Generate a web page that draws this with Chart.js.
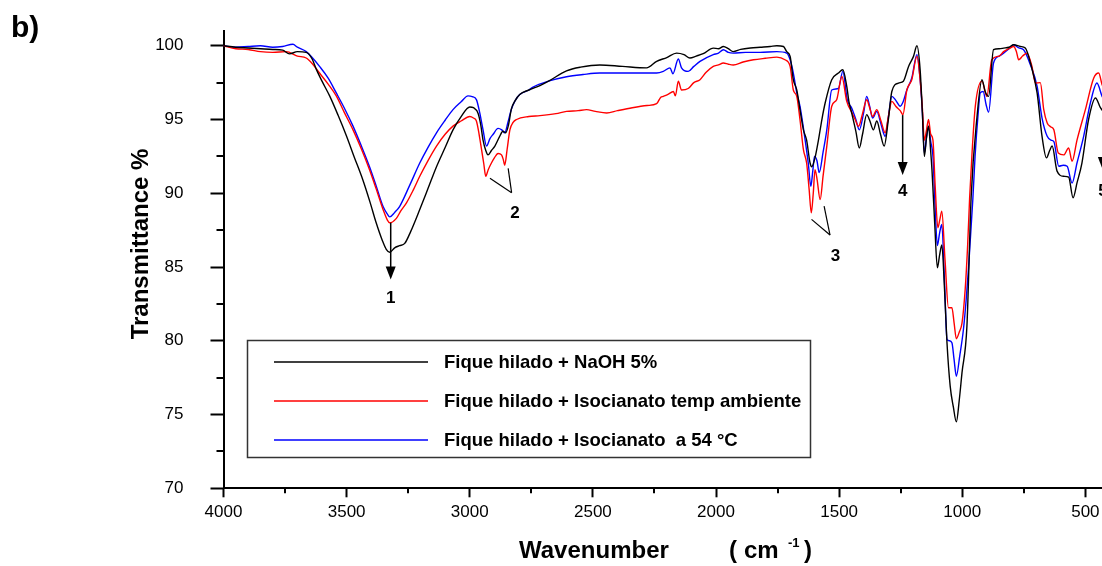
<!DOCTYPE html>
<html>
<head>
<meta charset="utf-8">
<title>FTIR fique hilado</title>
<script src="https://cdn.jsdelivr.net/npm/chart.js@4.4.0/dist/chart.umd.min.js"></script>
<style>
html, body { margin: 0; padding: 0; overflow: hidden; background: #fff; }
#wrap { width: 1120px; height: 566px; }
</style>
</head>
<body>
<div id="wrap"><canvas id="chart-1" width="1120" height="566"></canvas></div>
<script>

// Fique hilado + NaOH 5%
var naohWn = [4000,3950,3900,3850,3800,3760,3732,3700,3664,3640,3623,3600,3569,3535,3501,3470,3434,3405,3380,3355,3339,3325,3305,3285,3264,3240,3203,3170,3135,3100,3068,3035,3000,2985,2966,2955,2946,2935,2926,2912,2898,2880,2865,2854,2843,2831,2815,2797,2760,2715,2680,2607,2550,2472,2380,2282,2241,2200,2160,2130,2106,2080,2052,2011,1990,1970,1950,1930,1900,1860,1821,1780,1753,1726,1713,1699,1686,1672,1659,1645,1632,1618,1611,1598,1584,1570,1557,1530,1503,1485,1469,1460,1449,1432,1418,1405,1388,1375,1361,1347,1332,1317,1300,1286,1259,1239,1218,1198,1184,1171,1162,1154,1145,1137,1128,1123,1112,1101,1092,1083,1072,1062,1049,1036,1024,1012,1001,981,964,940,920,907,893,873,850,832,810,791,764,744,723,696,676,658,645,635,615,588,568,550,534,514,487,459,439,420];
var naohT = [100.0,99.9,99.85,99.8,99.75,99.7,99.45,99.6,99.55,99.1,98.4,97.6,96.6,95.3,93.9,92.5,90.9,89.4,88.0,86.8,86.2,86.0,86.3,86.45,86.6,87.4,88.9,90.3,91.8,93.1,94.3,95.2,95.85,95.8,95.4,94.6,93.6,92.9,92.6,92.9,93.2,93.8,94.2,94.1,94.6,95.7,96.3,96.7,97.0,97.3,97.6,98.3,98.55,98.7,98.6,98.5,98.94,99.2,99.5,99.4,99.17,99.3,99.46,99.84,99.8,99.95,99.8,99.6,99.75,99.85,99.9,99.95,100.0,99.95,99.6,99.28,97.7,97.0,95.67,94.3,93.6,92.05,91.8,92.4,93.6,95.0,96.1,97.7,98.15,98.37,97.25,96.2,95.44,94.2,93.07,94.0,95.33,94.9,94.3,94.9,94.0,93.2,95.0,96.9,97.47,97.6,98.6,99.28,100.0,98.37,95.5,92.5,93.8,94.54,92.8,91.6,88.0,84.95,85.8,86.5,83.5,79.87,76.93,75.5,74.5,76.0,77.84,81.0,89.7,95.2,97.7,96.9,96.57,99.73,99.8,99.84,99.9,100.07,99.95,99.84,98.83,96.8,93.86,92.4,92.9,93.2,91.5,91.15,91.1,89.7,90.7,92.05,95.0,96.46,95.8,95.4];

// Fique hilado + Isocianato temp ambiente
var ambWn = [4000,3950,3900,3850,3800,3745,3700,3664,3640,3610,3575,3542,3510,3474,3440,3407,3380,3352,3335,3325,3298,3280,3257,3230,3203,3170,3135,3100,3068,3035,3000,2985,2973,2962,2952,2943,2935,2925,2912,2900,2885,2871,2864,2858,2848,2837,2824,2810,2760,2715,2650,2607,2560,2526,2490,2444,2400,2340,2280,2241,2225,2214,2195,2173,2165,2153,2140,2113,2090,2065,2040,2011,1990,1970,1950,1930,1890,1848,1800,1753,1720,1699,1686,1672,1659,1645,1632,1622,1613,1605,1598,1590,1577,1565,1550,1530,1510,1489,1469,1449,1435,1421,1405,1388,1376,1364,1347,1330,1313,1300,1286,1270,1252,1241,1225,1205,1184,1171,1162,1154,1145,1137,1128,1119,1110,1099,1090,1083,1070,1056,1042,1033,1024,1012,1001,988,978,970,960,947,920,900,880,850,832,810,791,780,771,755,737,717,703,683,669,655,640,628,610,588,568,554,534,500,466,446,432,420];
var ambT = [100.0,99.8,99.75,99.6,99.55,99.6,99.3,99.17,98.8,98.15,97.4,96.6,95.5,94.3,93.0,91.6,90.3,88.9,88.2,88.0,88.3,88.8,89.35,90.2,91.15,92.2,93.2,94.0,94.55,94.9,95.2,95.1,94.9,94.0,92.96,92.0,91.15,91.6,92.05,92.4,92.7,92.6,92.3,91.9,93.0,94.3,94.8,95.0,95.2,95.26,95.4,95.55,95.6,95.67,95.55,95.44,95.6,95.8,95.95,96.07,96.5,96.57,96.7,96.9,96.6,97.6,97.0,97.1,97.5,97.7,98.2,98.6,98.7,98.83,98.75,98.7,98.9,99.05,99.15,99.23,99.05,98.6,97.0,96.57,95.0,92.96,92.05,90.3,88.67,90.0,91.6,91.0,89.57,91.2,93.2,95.9,96.34,97.92,96.23,95.5,95.0,94.54,95.4,96.34,95.8,95.2,95.67,94.9,94.1,95.2,96.23,95.9,95.6,95.33,97.0,97.7,99.28,97.7,95.8,93.6,94.3,95.0,94.0,93.6,90.5,87.66,88.3,88.78,85.5,82.24,82.24,81.2,80.14,80.6,81.2,83.5,86.5,89.7,92.8,95.9,97.6,96.57,99.05,99.3,99.6,99.8,99.95,99.6,99.05,99.3,99.5,98.6,97.47,97.5,95.67,94.77,94.5,94.3,92.73,92.6,93.07,92.17,93.6,95.67,97.81,98.15,97.36,97.0];

// Fique hilado + Isocianato a 54 °C
var hotWn = [4000,3950,3900,3850,3800,3760,3718,3700,3664,3640,3610,3575,3542,3510,3474,3440,3407,3380,3352,3335,3325,3305,3285,3245,3203,3170,3135,3100,3068,3035,3007,2990,2973,2960,2946,2932,2918,2905,2885,2870,2858,2845,2831,2815,2797,2760,2743,2680,2607,2540,2472,2380,2300,2241,2214,2187,2175,2153,2140,2113,2090,2065,2011,1990,1970,1950,1930,1880,1821,1753,1713,1699,1686,1672,1659,1638,1625,1615,1607,1600,1590,1581,1565,1550,1530,1503,1485,1467,1449,1432,1418,1400,1388,1376,1364,1347,1330,1313,1300,1286,1270,1252,1240,1225,1205,1184,1171,1162,1154,1145,1137,1128,1119,1110,1101,1092,1083,1072,1062,1052,1042,1033,1024,1010,995,984,974,957,948,935,927,915,903,893,873,850,832,810,791,770,751,723,696,676,655,640,628,608,590,574,554,534,507,480,453,432,420];
var hotT = [100.0,99.9,99.95,100.0,99.9,99.95,100.1,99.9,99.6,99.2,98.6,97.8,96.8,95.8,94.55,93.2,91.8,90.5,89.1,88.6,88.4,88.7,89.1,90.5,92.05,93.1,94.1,94.95,95.67,96.2,96.6,96.55,96.35,95.5,94.3,93.2,93.7,94.0,94.4,94.3,94.1,94.8,95.7,96.3,96.7,97.0,97.2,97.6,97.9,98.05,98.15,98.15,98.15,98.15,98.26,98.5,98.1,99.1,98.5,98.26,98.6,98.94,99.4,99.5,99.73,99.55,99.5,99.55,99.55,99.6,99.5,99.05,98.15,96.8,95.9,93.6,92.0,90.47,91.5,92.5,92.2,91.4,92.8,94.3,97.0,97.1,98.26,96.34,95.78,95.0,94.3,95.5,96.57,95.9,95.1,95.55,94.7,93.86,95.2,96.57,96.3,95.9,96.2,97.0,97.81,99.4,97.7,95.5,92.73,93.8,94.54,93.5,92.5,89.0,86.46,87.3,87.88,84.0,80.1,80.0,79.87,78.7,77.6,79.0,80.8,82.8,85.06,89.6,92.5,95.5,96.8,96.9,96.0,95.5,98.83,99.3,99.5,99.8,100.07,99.85,99.73,98.7,97.25,95.1,93.86,93.6,93.5,91.83,91.9,91.83,90.7,92.05,93.86,96.1,97.47,96.57,96.3];

var seriesNames = ['Fique hilado + NaOH 5%', 'Fique hilado + Isocianato temp ambiente', 'Fique hilado + Isocianato  a 54 \u00B0C'];
var seriesColors = ['#000000', '#ff0000', '#0000ff'];

var xTicks = [4000, 3500, 3000, 2500, 2000, 1500, 1000, 500];
var xMinor = [3750, 3250, 2750, 2250, 1750, 1250, 750];
var yTicks = [70, 75, 80, 85, 90, 95, 100];
var yMinor = [72.5, 77.5, 82.5, 87.5, 92.5, 97.5];

// band markers, in wavenumber / transmittance
var arrows = [
	{ label: '1', wn: 3321, from: 88.0, to: 84.16, textT: 82.87 },
	{ label: '4', wn: 1242, from: 95.3, to: 91.24, textT: 90.1 },
	{ label: '5', wn: 429, from: 94.5, to: 91.57, textT: 90.1 }
];
var brackets = [
	{ label: '2', apex: [2830, 90.04], ends: [[2918, 91.01], [2844, 91.69]], text: [2816, 88.64] },
	{ label: '3', apex: [1537, 87.17], ends: [[1612, 88.23], [1561, 89.13]], text: [1515, 85.7] }
];

function pairs(wn, t) {
	var out = [];
	for (var i = 0; i < wn.length; i++) {
		out.push({ x: wn[i], y: t[i] });
	}
	return out;
}

var FONT = '"Liberation Sans", Arial, sans-serif';

var extras = {
	id: 'extras',
	afterDraw: function(chart) {
		var ctx = chart.ctx;
		var xs = chart.scales.x, ys = chart.scales.y;
		var area = chart.chartArea;
		ctx.save();

		// minor ticks
		ctx.strokeStyle = '#000';
		ctx.lineWidth = 2;
		xMinor.forEach(function(v) {
			var px = Math.round(xs.getPixelForValue(v));
			ctx.beginPath();
			ctx.moveTo(px, area.bottom);
			ctx.lineTo(px, area.bottom + 5);
			ctx.stroke();
		});
		yMinor.forEach(function(v) {
			var py = Math.round(ys.getPixelForValue(v));
			ctx.beginPath();
			ctx.moveTo(area.left, py);
			ctx.lineTo(area.left - 7, py);
			ctx.stroke();
		});

		// arrows
		ctx.fillStyle = '#000';
		ctx.lineWidth = 1.5;
		ctx.font = 'bold 17px ' + FONT;
		ctx.textAlign = 'center';
		ctx.textBaseline = 'middle';
		arrows.forEach(function(a) {
			var px = xs.getPixelForValue(a.wn);
			var y0 = ys.getPixelForValue(a.from);
			var y1 = ys.getPixelForValue(a.to);
			ctx.beginPath();
			ctx.moveTo(px, y0);
			ctx.lineTo(px, y1 - 10);
			ctx.stroke();
			ctx.beginPath();
			ctx.moveTo(px - 5, y1 - 13);
			ctx.lineTo(px + 5, y1 - 13);
			ctx.lineTo(px, y1);
			ctx.closePath();
			ctx.fill();
			ctx.fillText(a.label, px, ys.getPixelForValue(a.textT));
		});

		// brackets
		ctx.lineWidth = 1.2;
		brackets.forEach(function(b) {
			var ax = xs.getPixelForValue(b.apex[0]), ay = ys.getPixelForValue(b.apex[1]);
			b.ends.forEach(function(e) {
				ctx.beginPath();
				ctx.moveTo(xs.getPixelForValue(e[0]), ys.getPixelForValue(e[1]));
				ctx.lineTo(ax, ay);
				ctx.stroke();
			});
			ctx.fillText(b.label, xs.getPixelForValue(b.text[0]), ys.getPixelForValue(b.text[1]));
		});

		// legend box
		ctx.fillStyle = '#fff';
		ctx.fillRect(247.5, 340.5, 563, 117);
		ctx.strokeStyle = '#333';
		ctx.lineWidth = 1.5;
		ctx.strokeRect(247.5, 340.5, 563, 117);
		var rows = [362, 401, 440];
		ctx.font = 'bold 18.5px ' + FONT;
		ctx.textAlign = 'left';
		ctx.textBaseline = 'alphabetic';
		for (var i = 0; i < seriesNames.length; i++) {
			ctx.strokeStyle = seriesColors[i];
			ctx.lineWidth = 1.5;
			ctx.beginPath();
			ctx.moveTo(274, rows[i]);
			ctx.lineTo(428, rows[i]);
			ctx.stroke();
			ctx.fillStyle = '#000';
			ctx.fillText(seriesNames[i], 444, rows[i] + 6);
		}

		// panel letter and axis titles
		ctx.fillStyle = '#000';
		ctx.font = 'bold 30px ' + FONT;
		ctx.fillText('b)', 11, 37);

		ctx.font = 'bold 24px ' + FONT;
		ctx.fillText('Wavenumber', 519, 558);
		ctx.fillText('(', 729, 558);
		ctx.fillText('cm', 744, 558);
		ctx.fillText(')', 804, 558);
		ctx.font = 'bold 13px ' + FONT;
		ctx.fillText('-1', 788, 547);

		ctx.font = 'bold 24px ' + FONT;
		ctx.translate(148, 244);
		ctx.rotate(-Math.PI / 2);
		ctx.textAlign = 'center';
		ctx.fillText('Transmittance %', 0, 0);

		ctx.restore();
	}
};

var data1 = {
	datasets: [
		{ label: seriesNames[0], data: pairs(naohWn, naohT), borderColor: seriesColors[0] },
		{ label: seriesNames[1], data: pairs(ambWn, ambT), borderColor: seriesColors[1] },
		{ label: seriesNames[2], data: pairs(hotWn, hotT), borderColor: seriesColors[2] }
	]
};
data1.datasets.forEach(function(d) {
	d.borderWidth = 1.4;
	d.pointRadius = 0;
	d.fill = false;
	d.cubicInterpolationMode = 'monotone';
});

var options1 = {
	responsive: false,
	animation: false,
	events: [],
	layout: { padding: { left: 0, right: 10, top: 31, bottom: 0 } },
	plugins: {
		legend: { display: false },
		tooltip: { enabled: false }
	},
	scales: {
		x: {
			type: 'linear',
			reverse: true,
			min: 400,
			max: 4000,
			afterBuildTicks: function(axis) {
				axis.ticks = xTicks.map(function(v) { return { value: v }; });
			},
			afterFit: function(axis) {
				axis.height = 77.7;
				axis.paddingLeft = 0;
				axis.paddingRight = 0;
			},
			border: { display: true, color: '#000', width: 2 },
			grid: { drawOnChartArea: false, drawTicks: true, tickLength: 9, tickWidth: 2, tickColor: '#000' },
			ticks: {
				autoSkip: false,
				maxRotation: 0,
				minRotation: 0,
				padding: 5,
				color: '#000',
				font: { family: FONT, size: 17 },
				callback: function(value) { return String(value); }
			}
		},
		y: {
			min: 70,
			max: 101,
			afterBuildTicks: function(axis) {
				axis.ticks = yTicks.map(function(v) { return { value: v }; });
			},
			afterFit: function(axis) {
				axis.width = 223.5;
				axis.paddingTop = 0;
				axis.paddingBottom = 0;
			},
			border: { display: true, color: '#000', width: 2 },
			grid: { drawOnChartArea: false, drawTicks: true, tickLength: 13, tickWidth: 2, tickColor: '#000' },
			ticks: {
				padding: 27,
				color: '#000',
				font: { family: FONT, size: 17 },
				callback: function(value) { return String(value); }
			}
		}
	}
};

var graph = new Chart('chart-1', {
	type: 'line',
	data: data1,
	options: options1,
	plugins: [extras]
});
</script>
</body>
</html>
